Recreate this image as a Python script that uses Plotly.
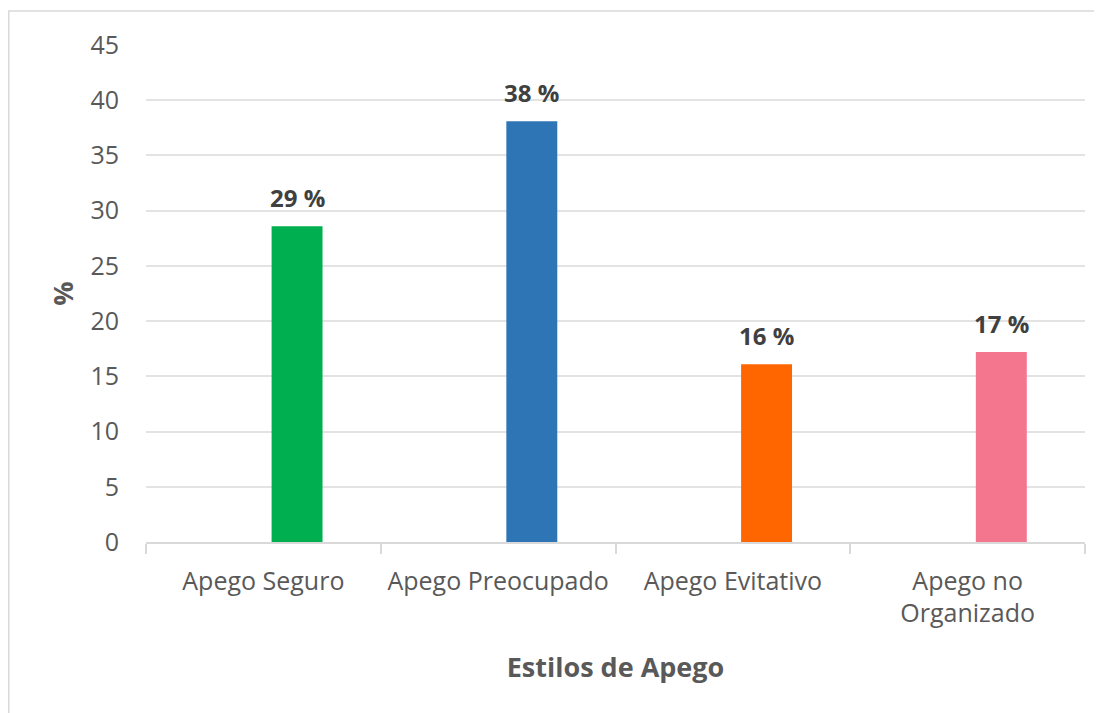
import plotly.graph_objects as go

categories = ["Apego Seguro", "Apego Preocupado", "Apego Evitativo", "Apego no<br>Organizado"]
values = [28.6, 38.1, 16.1, 17.2]
colors = ["#00B050", "#2E75B6", "#FF6600", "#F4758E"]
y_ticks = [0, 5, 10, 15, 20, 25, 30, 35, 40, 45]

# page body has an 8px margin; figure is laid out in its own coordinates
W, H = 1094, 705
L, R, T, B = 138, 17, 37, 171
PW = W - L - R

BAR_W = 0.217
BAR_OFF = 0.035  # bars sit right of the category centre (as in the source chart)

fig = go.Figure(go.Bar(
    x=categories, y=values,
    marker=dict(color=colors, line=dict(width=0)),
    width=BAR_W, offset=BAR_OFF,
    hoverinfo="x+y",
))

shift_px = (BAR_OFF + BAR_W / 2) * PW / len(categories)
for c, v in zip(categories, values):
    fig.add_annotation(
        x=c, y=v, xref="x", yref="y",
        text=f"<b>{v:.0f} %</b>", showarrow=False,
        yanchor="bottom", yshift=10, xshift=shift_px,
        font=dict(family="Open Sans", size=24, color="#404040"),
    )

fig.update_layout(
    width=W, height=H,
    margin=dict(l=L, r=R, t=T, b=B),
    paper_bgcolor="white", plot_bgcolor="white",
    showlegend=False,
    font=dict(family="Open Sans", color="#595959"),
    xaxis=dict(
        type="category",
        showline=True, linecolor="#D9D9D9", linewidth=1.5,
        ticks="outside", tickson="boundaries", ticklen=10, tickcolor="#D9D9D9", tickwidth=1.5,
        tickfont=dict(size=25, color="#595959"),
        ticklabelstandoff=16,
        title=dict(text="<b>Estilos de Apego</b>", font=dict(size=27, color="#595959"), standoff=30),
        showgrid=False,
    ),
    yaxis=dict(
        range=[0, 45], tickvals=y_ticks,
        showgrid=True, gridcolor="#E3E3E3", gridwidth=1.5,
        zeroline=False, showline=False,
        tickfont=dict(size=25, color="#595959"),
        ticklabelstandoff=26,
        title=dict(text="<b>%</b>", font=dict(size=27, color="#595959"), standoff=8),
    ),
)

# outer chart border (top and left edges of the chart frame)
fig.add_shape(type="line", xref="paper", yref="paper",
              x0=-L / PW, x1=(W - L + 10) / PW,
              y0=(H - B - 3) / (H - T - B), y1=(H - B - 3) / (H - T - B),
              line=dict(color="#D9D9D9", width=1.5))
fig.add_shape(type="line", xref="paper", yref="paper",
              x0=-L / PW + 0.0008, x1=-L / PW + 0.0008,
              y0=(H - B - 3) / (H - T - B), y1=-(B + 10) / (H - T - B),
              line=dict(color="#D9D9D9", width=1.5))

fig.write_html("out.html")
